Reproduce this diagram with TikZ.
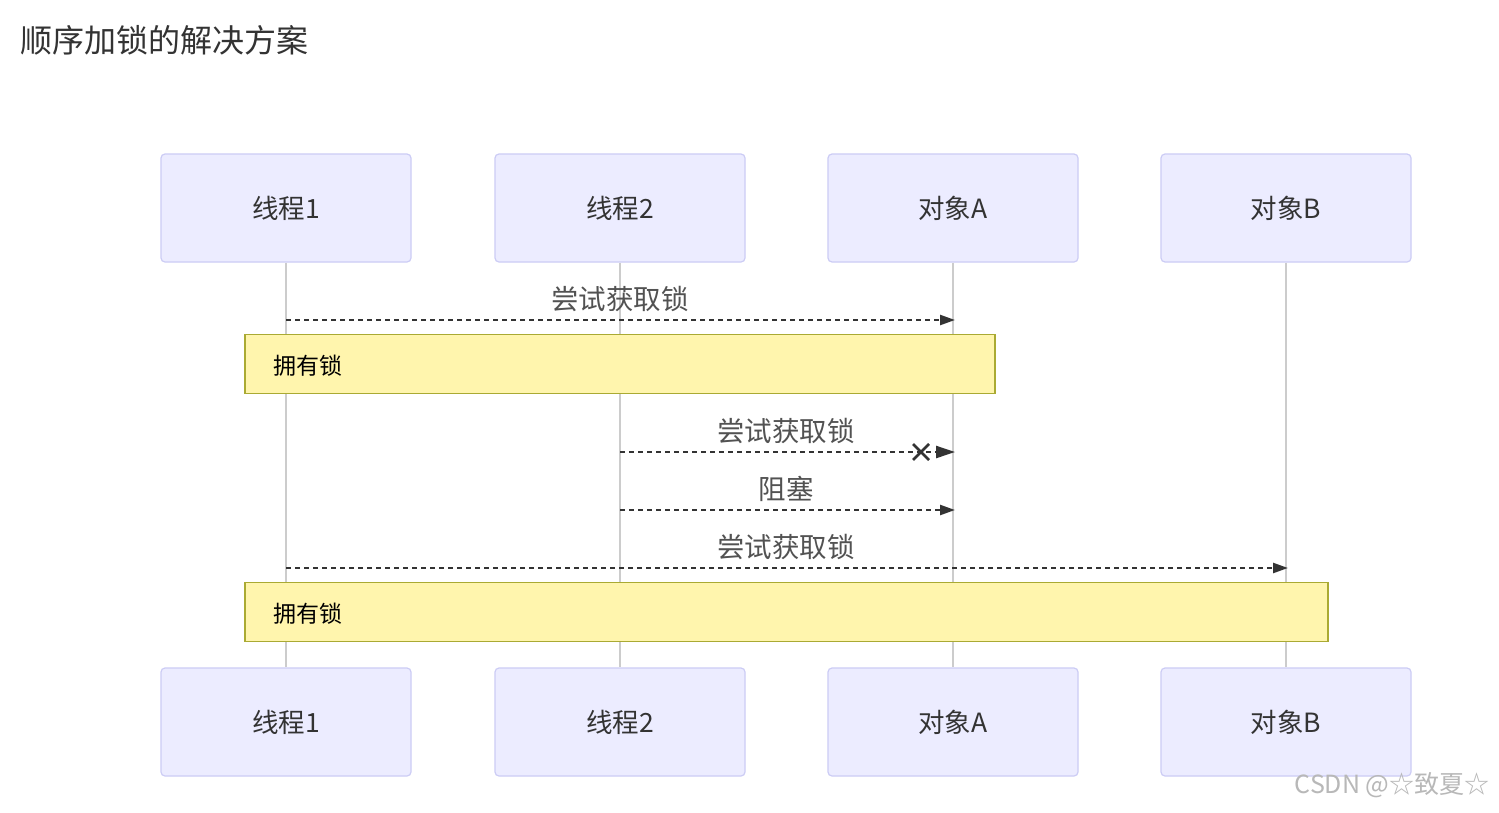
\documentclass[tikz,border=0pt]{standalone}
\usepackage{fontspec}
\setmainfont{Noto Sans CJK SC}
\newfontfamily\cjk{Noto Sans CJK SC}
\usetikzlibrary{arrows.meta,calc}
\definecolor{actfill}{HTML}{ECECFF}
\definecolor{actdraw}{HTML}{CCCCF5}
\definecolor{notefill}{HTML}{FFF5AD}
\definecolor{notedraw}{HTML}{AAAA33}
\definecolor{txt}{HTML}{333333}
\definecolor{life}{HTML}{CCCCCC}
\tikzset{
  actor/.style={draw=actdraw, line width=1.2pt, fill=actfill, rounded corners=4pt,
    minimum width=250pt, minimum height=108pt, inner sep=0pt,
    text=txt, font=\fontsize{26.5}{30}\selectfont},
  lifeline/.style={draw=life, line width=1.6pt},
  notebox/.style={draw=notedraw, line width=1.2pt, fill=notefill, inner sep=0pt},
  notetext/.style={text=black, font=\fontsize{23}{26}\selectfont, anchor=west},
  msg/.style={draw=txt, line width=2.4pt, dash pattern=on 5pt off 4pt,
    -{Triangle[length=15pt,width=10pt]}},
  msglabel/.style={text=txt!85, font=\fontsize{27.5}{32}\selectfont},
  xmark/.style={draw=txt, line width=2.6pt},
}
\begin{document}
\begin{tikzpicture}[x=1pt,y=-1pt]
\useasboundingbox (0,0) rectangle (1499,812);
\fill[white] (0,0) rectangle (1499,812);
% title
\node[anchor=west, text=txt, font=\fontsize{32}{36}\selectfont] (title) at (17,40) {顺序加锁的解决方案};
% actors
\node[actor] (t1) at (286,208) {线程1};
\node[actor] (t2) at (620,208) {线程2};
\node[actor] (t3) at (953,208) {对象A};
\node[actor] (t4) at (1286,208) {对象B};
\node[actor] (b1) at (286,722) {线程1};
\node[actor] (b2) at (620,722) {线程2};
\node[actor] (b3) at (953,722) {对象A};
\node[actor] (b4) at (1286,722) {对象B};
% lifelines
\draw[lifeline] (t1.south) -- (b1.north);
\draw[lifeline] (t2.south) -- (b2.north);
\draw[lifeline] (t3.south) -- (b3.north);
\draw[lifeline] (t4.south) -- (b4.north);
% coordinates on lifelines
\coordinate (m1s) at (286,320); \coordinate (m1e) at (955,320);
\coordinate (m2s) at (620,452); \coordinate (m2e) at (955,452);
\coordinate (m3s) at (620,510); \coordinate (m3e) at (955,510);
\coordinate (m4s) at (286,568); \coordinate (m4e) at (1288,568);
% message 1
\draw[msg] (m1s) -- (m1e);
\node[msglabel] (l1) at (620,299) {尝试获取锁};
% note 1
\node[notebox, minimum width=750pt, minimum height=59pt] (n1) at (620,364) {};
\node[notetext] (n1t) at (270,366) {拥有锁};
% message 2 with cross
\draw[msg, -{Triangle[length=19pt,width=12pt]}] (m2s) -- (m2e);
\coordinate (xc) at (921,452);
\draw[xmark] ($(xc)+(-8,-8)$) -- ($(xc)+(8,8)$);
\draw[xmark] ($(xc)+(-8,8)$) -- ($(xc)+(8,-8)$);
\node[msglabel] (l2) at (786,431) {尝试获取锁};
% message 3
\draw[msg] (m3s) -- (m3e);
\node[msglabel] (l3) at (786,489) {阻塞};
% message 4
\draw[msg] (m4s) -- (m4e);
\node[msglabel] (l4) at (786,547) {尝试获取锁};
% note 2
\node[notebox, minimum width=1083pt, minimum height=59pt] (n2) at (786.5,612) {};
\node[notetext] (n2t) at (270,614) {拥有锁};
% watermark
\node[anchor=east, text=black!28, font=\fontsize{25}{28}\selectfont] (wm) at (1493,785) {CSDN @☆致夏☆};
\end{tikzpicture}
\end{document}
